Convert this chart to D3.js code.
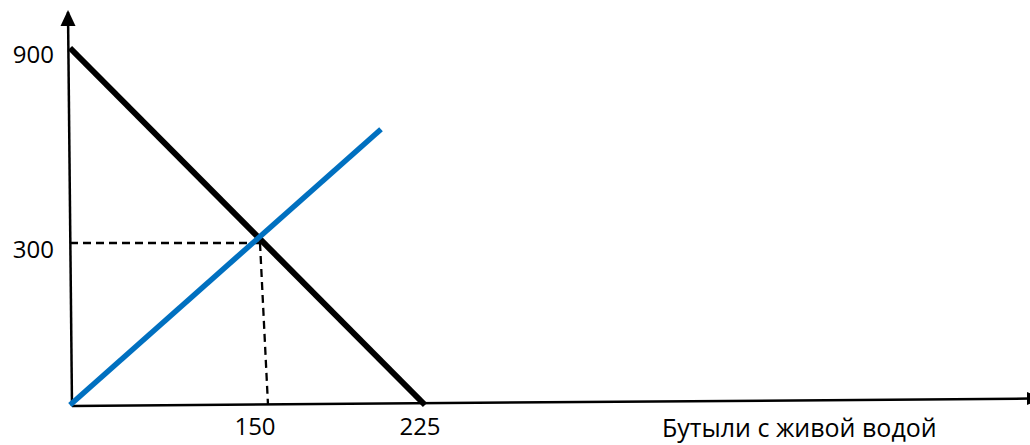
<!DOCTYPE html>
<html><head><meta charset="utf-8">
<script src="https://cdn.jsdelivr.net/npm/d3@7"></script>
<style>
html,body{margin:0;padding:0;background:#fff;}
svg{display:block;}
text{font-family:"Open Sans",sans-serif;fill:#000;}
</style></head>
<body>
<svg id="c" width="1030" height="445"></svg>
<script>
// ---- data ----
const quantityTicks = [150, 225];
const priceTicks = [300, 900];
const demand = [[0, 900], [225, 0]];
const supply = [[0, 0], [205, 650]];
const equilibrium = [150, 300];
const xTitle = "Бутыли с живой водой";

const svg = d3.select("#c");
const x = d3.scaleLinear().domain([0, 150, 225]).range([70, 260, 425]);
const y = d3.scaleLinear().domain([0, 300, 900]).range([405, 243, 48]);

// axes
svg.append("line").attr("x1", x(0)+2).attr("y1", y(0)+1).attr("x2", x(0)-2).attr("y2", 12)
  .attr("stroke","#000").attr("stroke-width",2.5);
svg.append("path").attr("d", `M${x(0)-2-7.5},26 L${x(0)-2},10 L${x(0)-2+7.5},26 Z`).attr("fill","#000");

svg.append("line").attr("x1", x(0)+2).attr("y1", y(0)+1).attr("x2", 1040).attr("y2", y(0)-6.5)
  .attr("stroke","#000").attr("stroke-width",2.5);
svg.append("path").attr("d", `M1027,${y(0)-13} L1043,${y(0)-6.5} L1027,${y(0)}Z`).attr("fill","#000");

// dashed guides
svg.append("line").attr("x1", x(0)).attr("y1", y(equilibrium[1]))
  .attr("x2", x(equilibrium[0])).attr("y2", y(equilibrium[1]))
  .attr("stroke","#000").attr("stroke-width",2.3).attr("stroke-dasharray","8,5");
svg.append("line").attr("x1", x(equilibrium[0])).attr("y1", y(equilibrium[1]))
  .attr("x2", x(equilibrium[0])+8).attr("y2", y(0))
  .attr("stroke","#000").attr("stroke-width",2.3).attr("stroke-dasharray","8,5");

const line = d3.line().x(d => x(d[0])).y(d => y(d[1]));
svg.append("path").datum(demand).attr("d", line).attr("fill","none")
  .attr("stroke","#000").attr("stroke-width",6);
svg.append("path").datum(supply).attr("d", line).attr("fill","none")
  .attr("stroke","#0070C0").attr("stroke-width",5.5);

// tick labels
svg.selectAll(".yt").data(priceTicks).join("text").attr("class","yt")
  .attr("x", 54).attr("y", d => y(d) + 15).attr("text-anchor","end")
  .attr("font-size", 24).text(d => d);
svg.selectAll(".xt").data(quantityTicks).join("text").attr("class","xt")
  .attr("x", d => x(d) - 5).attr("y", 435).attr("text-anchor","middle")
  .attr("font-size", 24).text(d => d);

svg.append("text").attr("x", 662).attr("y", 437).attr("font-size", 25).text(xTitle);
</script>
</body></html>
